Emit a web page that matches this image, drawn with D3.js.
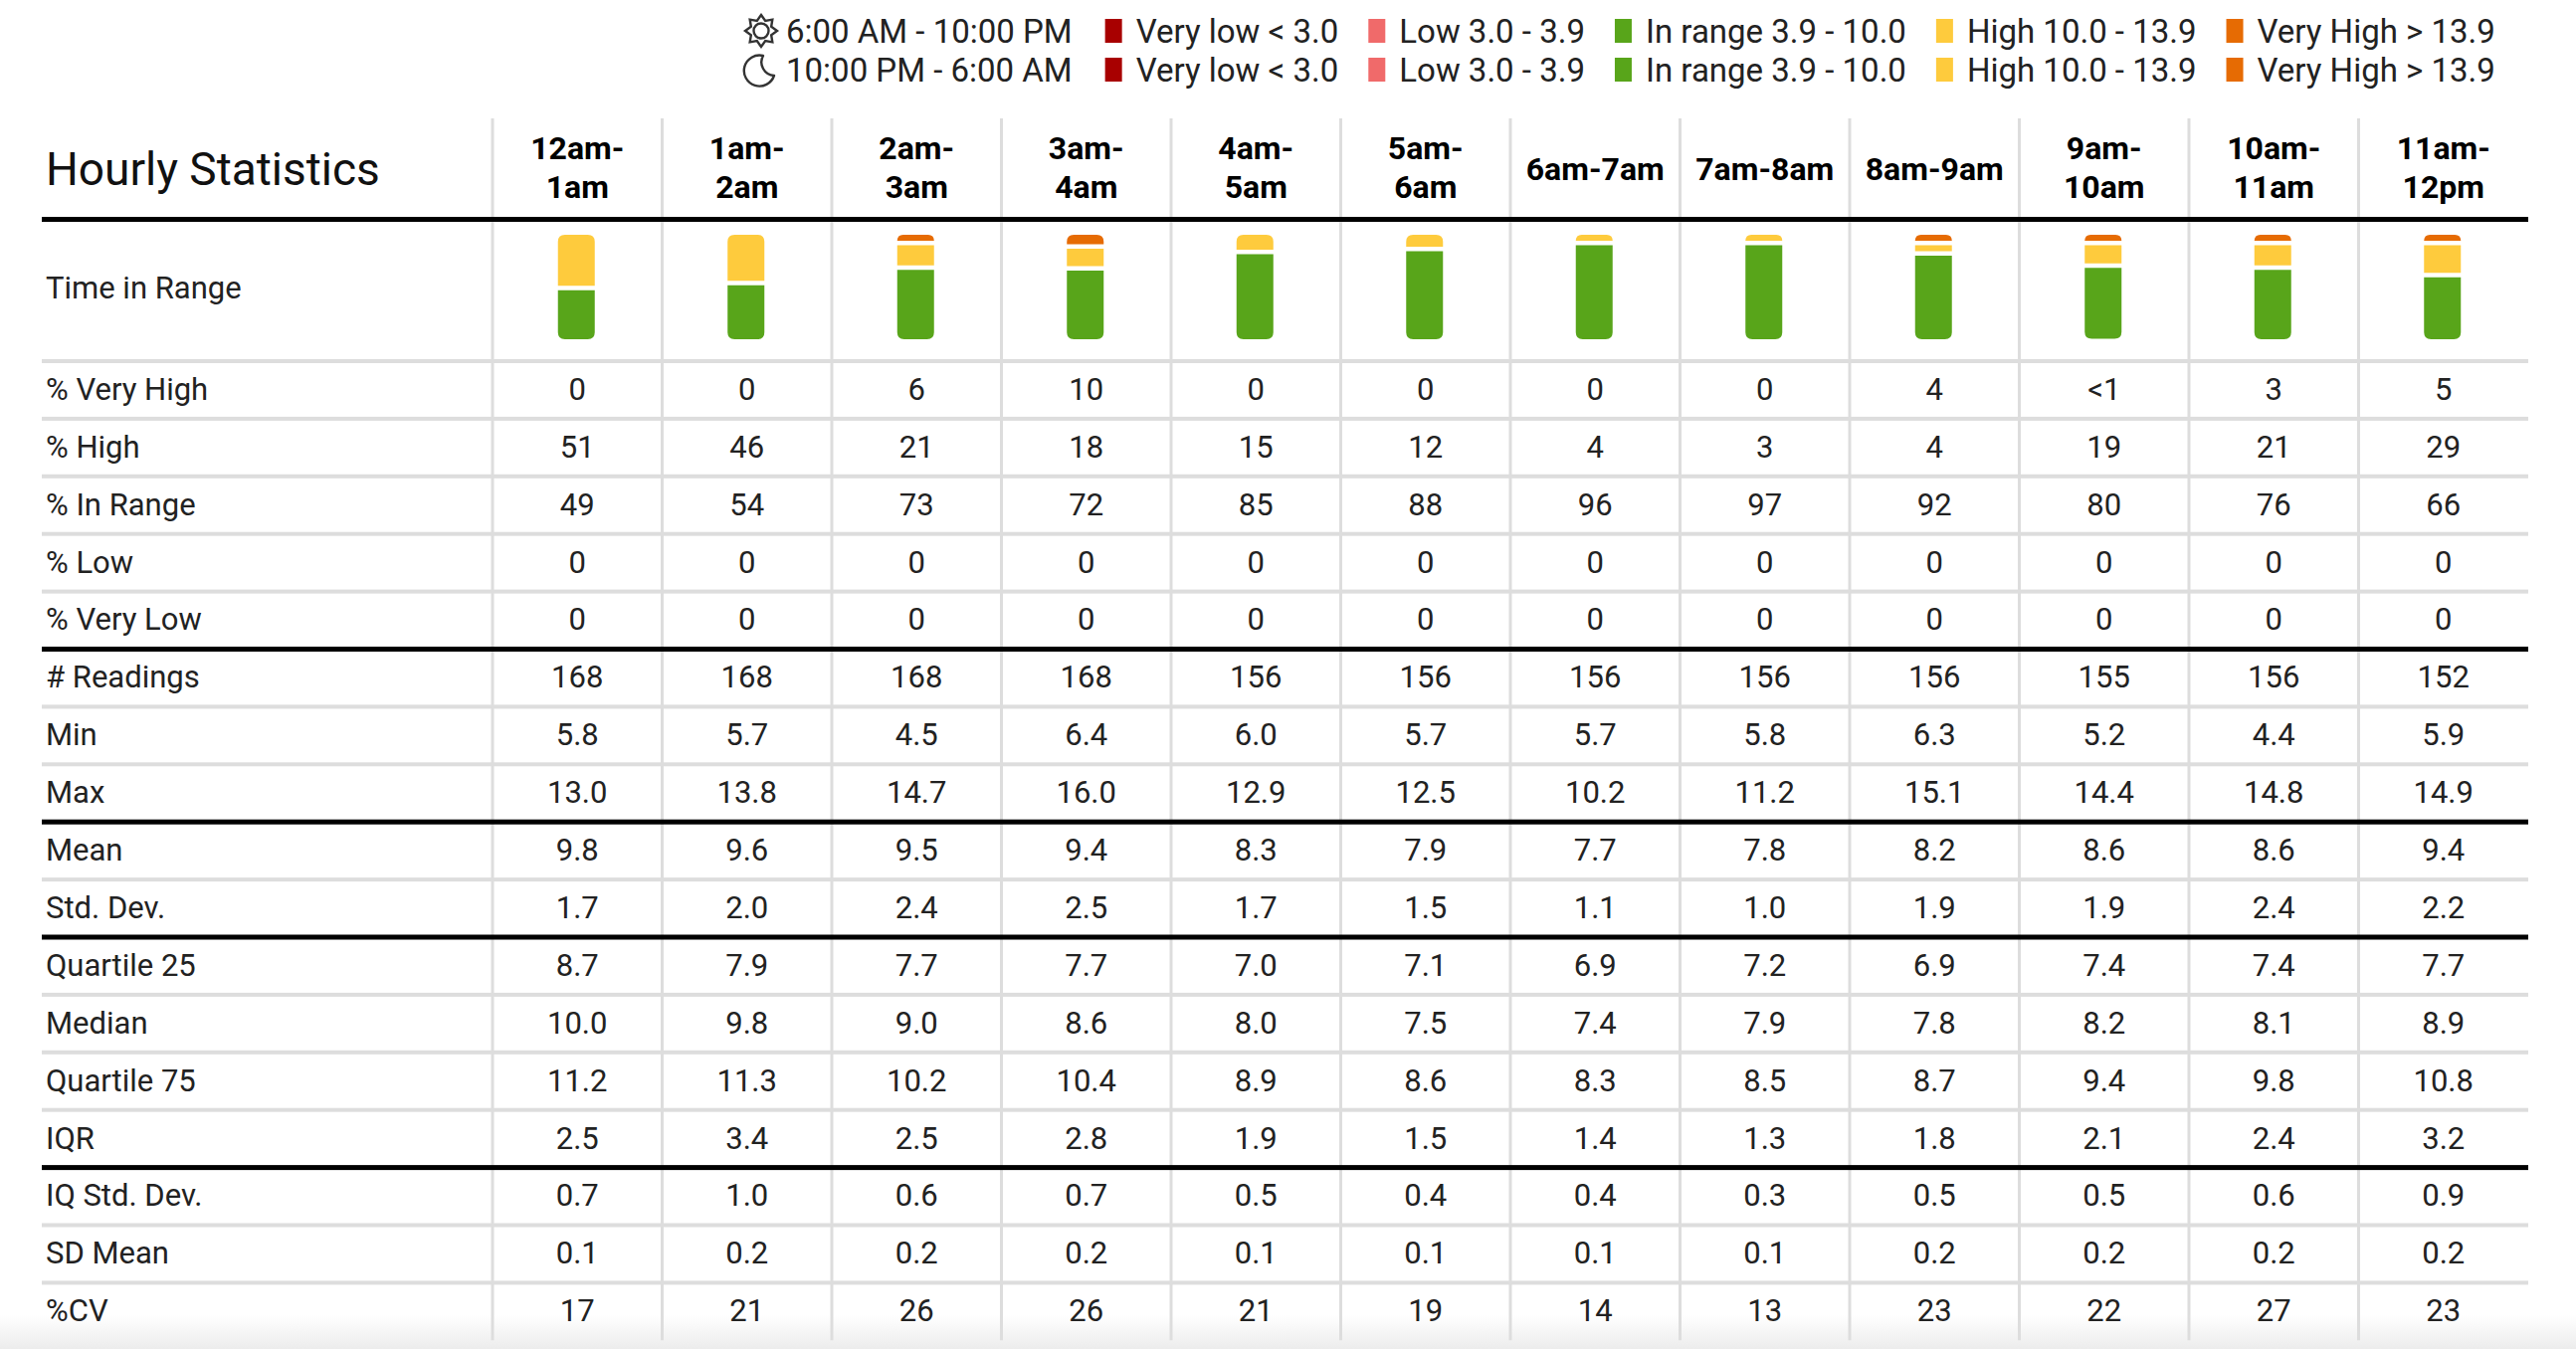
<!DOCTYPE html>
<html>
<head>
<meta charset="utf-8">
<script src="https://cdn.jsdelivr.net/npm/d3@7"></script>
<style>
  body { margin: 0; background: #fff; }
  svg { display: block; font-family: Roboto, "Noto Sans", sans-serif; }
</style>
</head>
<body>
<div id="chart"></div>
<script>
// column categories (hour buckets)
const hours = ["12am-1am", "1am-2am", "2am-3am", "3am-4am", "4am-5am", "5am-6am",
  "6am-7am", "7am-8am", "8am-9am", "9am-10am", "10am-11am", "11am-12pm"];
const singleLine = ["6am-7am", "7am-8am", "8am-9am"];

// legend
const rangeNames = ["Very low < 3.0", "Low 3.0 - 3.9", "In range 3.9 - 10.0", "High 10.0 - 13.9", "Very High > 13.9"];
const rangeColors = ["#a80000", "#f06a6a", "#58a51a", "#fecb3d", "#e66b03"];
const periods = ["6:00 AM - 10:00 PM", "10:00 PM - 6:00 AM"];

// series values
const pctVeryHigh = ["0", "0", "6", "10", "0", "0", "0", "0", "4", "<1", "3", "5"];
const pctHigh = [51, 46, 21, 18, 15, 12, 4, 3, 4, 19, 21, 29];
const pctInRange = [49, 54, 73, 72, 85, 88, 96, 97, 92, 80, 76, 66];
const pctLow = [0, 0, 0, 0, 0, 0, 0, 0, 0, 0, 0, 0];
const pctVeryLow = [0, 0, 0, 0, 0, 0, 0, 0, 0, 0, 0, 0];
const readings = [168, 168, 168, 168, 156, 156, 156, 156, 156, 155, 156, 152];
const minVal = ["5.8", "5.7", "4.5", "6.4", "6.0", "5.7", "5.7", "5.8", "6.3", "5.2", "4.4", "5.9"];
const maxVal = ["13.0", "13.8", "14.7", "16.0", "12.9", "12.5", "10.2", "11.2", "15.1", "14.4", "14.8", "14.9"];
const meanVal = ["9.8", "9.6", "9.5", "9.4", "8.3", "7.9", "7.7", "7.8", "8.2", "8.6", "8.6", "9.4"];
const stdDev = ["1.7", "2.0", "2.4", "2.5", "1.7", "1.5", "1.1", "1.0", "1.9", "1.9", "2.4", "2.2"];
const q25 = ["8.7", "7.9", "7.7", "7.7", "7.0", "7.1", "6.9", "7.2", "6.9", "7.4", "7.4", "7.7"];
const median = ["10.0", "9.8", "9.0", "8.6", "8.0", "7.5", "7.4", "7.9", "7.8", "8.2", "8.1", "8.9"];
const q75 = ["11.2", "11.3", "10.2", "10.4", "8.9", "8.6", "8.3", "8.5", "8.7", "9.4", "9.8", "10.8"];
const iqr = ["2.5", "3.4", "2.5", "2.8", "1.9", "1.5", "1.4", "1.3", "1.8", "2.1", "2.4", "3.2"];
const iqStdDev = ["0.7", "1.0", "0.6", "0.7", "0.5", "0.4", "0.4", "0.3", "0.5", "0.5", "0.6", "0.9"];
const sdMean = ["0.1", "0.2", "0.2", "0.2", "0.1", "0.1", "0.1", "0.1", "0.2", "0.2", "0.2", "0.2"];
const cv = [17, 21, 26, 26, 21, 19, 14, 13, 23, 22, 27, 23];

// table rows built from the arrays above (thick = black rule under the row)
const statRows = [
  { label: "% Very High", values: pctVeryHigh },
  { label: "% High", values: pctHigh },
  { label: "% In Range", values: pctInRange },
  { label: "% Low", values: pctLow },
  { label: "% Very Low", values: pctVeryLow, thick: true },
  { label: "# Readings", values: readings },
  { label: "Min", values: minVal },
  { label: "Max", values: maxVal, thick: true },
  { label: "Mean", values: meanVal },
  { label: "Std. Dev.", values: stdDev, thick: true },
  { label: "Quartile 25", values: q25 },
  { label: "Median", values: median },
  { label: "Quartile 75", values: q75 },
  { label: "IQR", values: iqr, thick: true },
  { label: "IQ Std. Dev.", values: iqStdDev },
  { label: "SD Mean", values: sdMean },
  { label: "%CV", values: cv }
];

const W = 2589, H = 1356;
const left = 42, right = 2541, labelCol = 495;
const headTop = 119, headBottom = 220.5, tirBottom = 363, rowH = 57.9;

const svg = d3.select('#chart').append('svg')
  .attr('width', W)
  .attr('height', H);

const x = d3.scaleBand().domain(hours).range([labelCol, right]);
const y = d3.scaleBand().domain(statRows.map(d => d.label))
  .range([tirBottom, tirBottom + rowH * statRows.length]);

// bottom fade
const grad = svg.append('defs').append('linearGradient')
  .attr('id', 'fade').attr('x1', 0).attr('x2', 0).attr('y1', 0).attr('y2', 1);
grad.append('stop').attr('offset', 0).attr('stop-color', '#fff');
grad.append('stop').attr('offset', 1).attr('stop-color', '#ececec');
svg.append('rect').attr('x', 0).attr('y', 1322).attr('width', W).attr('height', H - 1322)
  .attr('fill', 'url(#fade)');

// ---- legend
const legend = svg.append('g').attr('font-size', 33).attr('fill', '#222');
const legendY = [31, 70];
periods.forEach(function(p, r) {
  const g = legend.append('g');
  let cx = 790;
  const t = g.append('text').attr('x', cx).attr('y', legendY[r]).attr('dy', '0.35em').text(p);
  cx += t.node().getComputedTextLength() + 33;
  rangeNames.forEach(function(name, i) {
    g.append('rect')
      .attr('x', cx).attr('y', legendY[r] - 12)
      .attr('width', 17).attr('height', 24)
      .attr('fill', rangeColors[i]);
    const tt = g.append('text').attr('x', cx + 31).attr('y', legendY[r]).attr('dy', '0.35em').text(name);
    cx += 31 + tt.node().getComputedTextLength() + 30;
  });
});

// sun icon
const sun = legend.append('g').attr('transform', 'translate(765,31)')
  .attr('fill', 'none').attr('stroke', '#333').attr('stroke-width', 2.4);
const star = d3.range(16).map(function(i) {
  const a = i * Math.PI / 8 - Math.PI / 2;
  const r = i % 2 ? 11 : 16;
  return [r * Math.cos(a), r * Math.sin(a)];
});
sun.append('path').attr('d', d3.line()(star) + 'Z').attr('stroke-linejoin', 'miter');
sun.append('circle').attr('r', 7.5);

// moon icon
legend.append('path')
  .attr('d', 'M767,56 A15.5,15.5 0 1 0 778,76 A13.5,13.5 0 0 1 767,56 Z')
  .attr('fill', 'none').attr('stroke', '#333').attr('stroke-width', 2.4)
  .attr('stroke-linejoin', 'round');

// ---- grid lines
const grid = svg.append('g');

// light row rules
statRows.forEach(function(d, i) {
  if (i === statRows.length - 1 || d.thick) return;
  grid.append('rect')
    .attr('x', left).attr('y', y(d.label) + rowH - 2)
    .attr('width', right - left).attr('height', 4)
    .attr('fill', '#dddddd');
});
grid.append('rect')
  .attr('x', left).attr('y', tirBottom - 2)
  .attr('width', right - left).attr('height', 4)
  .attr('fill', '#dddddd');

// column rules
grid.selectAll('.vline')
  .data(hours)
    .enter()
  .append('rect')
  .attr('class', 'vline')
  .attr('x', d => x(d) - 1.5)
  .attr('y', headTop)
  .attr('width', 3)
  .attr('height', tirBottom + rowH * statRows.length - headTop)
  .attr('fill', '#dddddd');

// black rules
grid.append('rect')
  .attr('x', left).attr('y', headBottom - 2.5)
  .attr('width', right - left).attr('height', 5)
  .attr('fill', '#000');
statRows.filter(d => d.thick).forEach(function(d) {
  grid.append('rect')
    .attr('x', left).attr('y', y(d.label) + rowH - 2.5)
    .attr('width', right - left).attr('height', 5)
    .attr('fill', '#000');
});

// ---- header
svg.append('text')
  .attr('x', 46).attr('y', 170).attr('dy', '0.35em')
  .attr('font-size', 46).attr('fill', '#111')
  .text('Hourly Statistics');

const head = svg.append('g').attr('font-size', 32).attr('font-weight', 'bold')
  .attr('text-anchor', 'middle').attr('fill', '#000');
hours.forEach(function(h) {
  const cx = x(h) + x.bandwidth() / 2;
  if (singleLine.indexOf(h) >= 0) {
    head.append('text').attr('x', cx).attr('y', 170).attr('dy', '0.35em').text(h);
  } else {
    const cut = h.indexOf('-') + 1;
    head.append('text').attr('x', cx).attr('y', 149).attr('dy', '0.35em').text(h.slice(0, cut));
    head.append('text').attr('x', cx).attr('y', 188).attr('dy', '0.35em').text(h.slice(cut));
  }
});

// ---- time in range bars
svg.append('text')
  .attr('x', 46).attr('y', 289).attr('dy', '0.35em')
  .attr('font-size', 31).attr('fill', '#222')
  .text('Time in Range');

const barTop = 236, barH = 105, barW = 37, gap = 4.5, minH = 6, radius = 7;
const hScale = d3.scaleLinear().domain([0, 100]);

function toNum(v) {
  if (typeof v === 'number') return v;
  if (v.charAt(0) === '<') return 0.5;
  return +v;
}

function segPath(x0, y0, w, h, rt, rb) {
  rt = Math.min(rt, h, w / 2);
  rb = Math.min(rb, h - rt, w / 2);
  return 'M' + x0 + ',' + (y0 + rt) +
    ' Q' + x0 + ',' + y0 + ' ' + (x0 + rt) + ',' + y0 +
    ' H' + (x0 + w - rt) +
    ' Q' + (x0 + w) + ',' + y0 + ' ' + (x0 + w) + ',' + (y0 + rt) +
    ' V' + (y0 + h - rb) +
    ' Q' + (x0 + w) + ',' + (y0 + h) + ' ' + (x0 + w - rb) + ',' + (y0 + h) +
    ' H' + (x0 + rb) +
    ' Q' + x0 + ',' + (y0 + h) + ' ' + x0 + ',' + (y0 + h - rb) + ' Z';
}

const bars = svg.append('g');
hours.forEach(function(h, i) {
  // top to bottom: very high, high, in range, low, very low
  const vals = [toNum(pctVeryHigh[i]), pctHigh[i], pctInRange[i], pctLow[i], pctVeryLow[i]];
  const cols = [rangeColors[4], rangeColors[3], rangeColors[2], rangeColors[1], rangeColors[0]];
  const segs = vals.map((v, k) => ({ v: v, c: cols[k] })).filter(s => s.v > 0);
  const avail = barH - gap * (segs.length - 1);
  hScale.range([0, avail]);
  segs.forEach(s => { s.h = hScale(s.v); });
  // small segments get a minimum height, taken from the largest one
  let extra = 0;
  segs.forEach(s => { if (s.h < minH) { extra += minH - s.h; s.h = minH; } });
  d3.greatest(segs, s => s.h).h -= extra;

  const x0 = x(h) + x.bandwidth() / 2 - barW / 2 - 1;
  let yy = barTop;
  segs.forEach(function(s, k) {
    bars.append('path')
      .attr('d', segPath(x0, yy, barW, s.h, k === 0 ? radius : 0, k === segs.length - 1 ? radius : 0))
      .attr('fill', s.c);
    yy += s.h + gap;
  });
});

// ---- stat rows
const body = svg.append('g').attr('font-size', 31).attr('fill', '#222');
body.selectAll('.rowLabel')
  .data(statRows)
    .enter()
  .append('text')
  .attr('class', 'rowLabel')
  .attr('x', 46)
  .attr('y', d => y(d.label) + rowH / 2 - 1)
  .attr('dy', '0.35em')
  .text(d => d.label);

statRows.forEach(function(d) {
  body.selectAll(null)
    .data(d.values)
      .enter()
    .append('text')
    .attr('text-anchor', 'middle')
    .attr('x', (v, i) => x(hours[i]) + x.bandwidth() / 2)
    .attr('y', y(d.label) + rowH / 2 - 1)
    .attr('dy', '0.35em')
    .text(v => v);
});
</script>
</body>
</html>
